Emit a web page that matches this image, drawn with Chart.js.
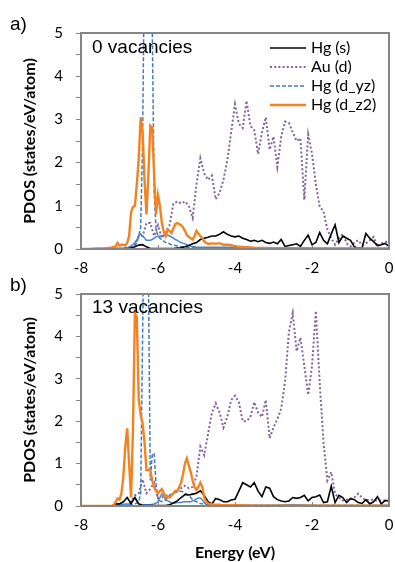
<!DOCTYPE html>
<html>
<head>
<meta charset="utf-8">
<script src="https://cdn.jsdelivr.net/npm/chart.js@4"></script>
<style>
  body { margin: 0; background: #fff; width: 395px; height: 562px; position: relative; overflow: hidden; }
  .panel { position: absolute; left: 0; width: 395px; }
  #wrapA { top: 0; height: 280px; }
  #wrapB { top: 272px; height: 290px; }
</style>
</head>
<body>
<div class="panel" id="wrapA"><canvas id="chartA"></canvas></div>
<div class="panel" id="wrapB"><canvas id="chartB"></canvas></div>
<script>
// energy grid (eV) for Hg(s) and Au(d)
var energy = [-8.0,-7.9,-7.8,-7.7,-7.6,-7.5,-7.4,-7.3,-7.2,-7.1,
  -7.0,-6.9,-6.8,-6.7,-6.6,-6.5,-6.4,-6.3,-6.2,-6.1,
  -6.0,-5.9,-5.8,-5.7,-5.6,-5.5,-5.4,-5.3,-5.2,-5.1,
  -5.0,-4.9,-4.8,-4.7,-4.6,-4.5,-4.4,-4.3,-4.2,-4.1,
  -4.0,-3.9,-3.8,-3.7,-3.6,-3.5,-3.4,-3.3,-3.2,-3.1,
  -3.0,-2.9,-2.8,-2.7,-2.6,-2.5,-2.4,-2.3,-2.2,-2.1,
  -2.0,-1.9,-1.8,-1.7,-1.6,-1.5,-1.4,-1.3,-1.2,-1.1,
  -1.0,-0.9,-0.8,-0.7,-0.6,-0.5,-0.4,-0.3,-0.2,-0.1,
  0.0];

// finer grid for the Hg d orbitals
var energyD = [-8.0,-7.8,-7.6,
  -7.4,-7.35,-7.3,-7.25,-7.2,-7.15,-7.1,-7.05,-7.0,-6.95,
  -6.9,-6.85,-6.8,-6.75,-6.7,-6.65,-6.6,-6.55,-6.5,-6.45,
  -6.4,-6.35,-6.3,-6.25,-6.2,-6.15,-6.1,-6.05,-6.0,-5.95,
  -5.9,-5.85,-5.8,-5.75,-5.7,-5.65,-5.6,-5.55,-5.5,-5.45,
  -5.4,-5.35,-5.3,-5.25,-5.2,-5.15,-5.1,-5.05,-5.0,-4.95,
  -4.9,-4.85,-4.8,-4.75,-4.7,-4.65,-4.6,-4.55,-4.5,-4.45,
  -4.4,-4.35,-4.3,-4.25,-4.2,-4.15,-4.1,-4.05,-4.0,
  -3.5,-3.0,-2.5,-2.0,-1.5,-1.0,-0.5,0.0];

var seriesNames = ['Hg (s)', 'Au (d)', 'Hg (d_yz)', 'Hg (d_z2)'];
var xTicks = [-8, -6, -4, -2, 0];
var panelTags = ['a)', 'b)'];
var panelNotes = ['0 vacancies', '13 vacancies'];

// ---- panel a: 0 vacancies ----
var hgS_a = [0,0,0,0,0,0,0,0,0,0,
  0,0,0,0.02,0.05,0.09,0.1,0.05,0.01,0.01,
  0.01,0.01,0.01,0.01,0.01,0.02,0.03,0.05,0.08,0.12,
  0.15,0.22,0.25,0.27,0.3,0.3,0.34,0.4,0.34,0.3,
  0.28,0.3,0.25,0.22,0.18,0.2,0.17,0.2,0.15,0.13,
  0.16,0.12,0.22,0.06,0.08,0.1,0.12,0.06,0.2,0.32,
  0.1,0.15,0.38,0.2,0.12,0.35,0.56,0.15,0.3,0.25,
  0.2,0.05,0.02,0.03,0.36,0.25,0.17,0.08,0.1,0.13,
  0.06];
var auD_a = [0,0,0,0,0,0,0,0,0,0,
  0,0,0,0.02,0.1,0.3,0.3,0.6,0.6,0.3,
  0.55,0.25,0.4,0.55,1.05,1.1,1.05,1.1,1.0,0.72,
  1.5,2.1,1.75,1.6,1.7,1.15,1.3,1.6,2.05,2.7,
  3.35,2.9,2.8,3.43,2.85,2.75,2.2,2.7,3.05,2.3,
  2.6,1.9,2.6,2.95,2.92,2.7,2.5,2.56,1.14,2.65,
  2.2,1.5,0.98,0.87,0.45,0.25,0.1,0.25,0.35,0.13,
  0.06,0.15,0.2,0.09,0.13,0.2,0.28,0.06,0.13,0.15,
  0.2];
var dyz_a = [0,0,0,
  0,0,0,0,0,0.01,0.01,0.01,0.01,0.02,
  0.02,0.02,0.03,0.03,0.04,0.05,0.08,0.15,0.3,0.5,
  2.5,7,9,9,9,5.2,1.3,0.45,0.3,0.25,
  0.2,0.18,0.15,0.14,0.12,0.1,0.09,0.08,0.07,0.06,
  0.05,0.05,0.04,0.04,0.03,0.03,0.03,0.03,0.02,0.02,
  0.02,0.02,0.02,0.02,0.02,0.02,0.02,0.02,0.02,0.02,
  0.02,0.02,0.02,0.02,0.01,0.01,0.01,0.01,0.01,
  0.01,0.01,0.01,0.01,0.01,0.01,0.01,0.01];
var dOther_a = [0,0,0,
  0.01,0.01,0.01,0.01,0.01,0.01,0.02,0.02,0.02,0.02,
  0.02,0.03,0.03,0.05,0.07,0.1,0.15,0.2,0.3,0.35,
  0.3,0.25,0.2,0.2,0.2,0.22,0.25,0.28,0.3,0.3,
  0.3,0.32,0.3,0.32,0.3,0.28,0.25,0.22,0.2,0.17,
  0.15,0.13,0.12,0.1,0.08,0.06,0.05,0.05,0.04,0.04,
  0.04,0.04,0.04,0.04,0.04,0.04,0.04,0.04,0.04,0.04,
  0.04,0.04,0.04,0.04,0.04,0.04,0.04,0.04,0.04,
  0.03,0.03,0.03,0.02,0.01,0.01,0.01,0.01];
var dz2_a = [0,0,0.01,
  0.01,0.02,0.02,0.03,0.03,0.05,0.06,0.14,0.08,0.1,
  0.1,0.08,0.14,0.3,0.85,0.97,1.0,1.5,2.1,3.05,
  2.7,1.6,0.8,1.7,2.85,2.8,1.7,0.8,1.25,1.0,
  0.6,0.4,0.3,0.45,0.42,0.37,0.48,0.58,0.6,0.58,
  0.55,0.5,0.42,0.32,0.28,0.25,0.22,0.3,0.42,0.35,
  0.3,0.25,0.18,0.14,0.12,0.12,0.13,0.13,0.12,0.13,
  0.13,0.12,0.1,0.1,0.1,0.1,0.09,0.08,0.06,
  0.03,0.02,0.02,0.01,0.01,0.01,0.01,0.01];

// ---- panel b: 13 vacancies ----
var hgS_b = [0,0,0,0,0,0,0,0,0,0.05,
  0.05,0.1,0.2,0.06,0.2,0.05,0.01,0.01,0.01,0.01,
  0.01,0.01,0.01,0.03,0.07,0.12,0.2,0.27,0.26,0.28,
  0.3,0.36,0.25,0.1,0.05,0.18,0.15,0.1,0.1,0.14,
  0.16,0.35,0.55,0.5,0.45,0.55,0.35,0.22,0.45,0.42,
  0.22,0.15,0.12,0.1,0.12,0.2,0.18,0.2,0.25,0.12,
  0.2,0.22,0.26,0.08,0.1,0.47,0.08,0.25,0.2,0.08,
  0.18,0.15,0.08,0.06,0.15,0.05,0.1,0.22,0.05,0.13,
  0.12];
var auD_b = [0,0,0,0,0,0,0,0,0,0,
  0,0,0,0.1,0.25,0.3,0.63,0.3,0.4,0.55,
  0.18,0.2,0.25,0.25,0.3,0.36,0.42,0.48,0.42,0.45,
  0.7,1.4,1.2,1.7,2.2,2.42,2.2,1.85,2.1,2.5,
  2.6,2.45,2.0,2.0,2.1,2.45,2.2,2.1,2.5,1.6,
  1.85,2.05,2.3,2.93,4.1,4.55,3.65,3.97,3.3,2.62,
  3.3,4.6,2.9,1.5,0.6,0.8,0.28,0.2,0.13,0.15,
  0.16,0.2,0.29,0.2,0.13,0.15,0.15,0.12,0.13,0.13,
  0.13];
var dyz_b = [0,0,0,
  0,0,0,0,0,0,0.01,0.01,0.01,0.01,
  0.01,0.02,0.02,0.03,0.03,0.04,0.05,0.07,0.1,0.3,
  4,8,8,5.5,0.6,1.2,1.25,0.5,0.15,0.12,
  0.1,0.12,0.15,0.2,0.25,0.28,0.3,0.32,0.33,0.35,
  0.35,0.33,0.3,0.28,0.25,0.2,0.15,0.12,0.1,0.08,
  0.06,0.05,0.04,0.03,0.03,0.02,0.02,0.02,0.02,0.02,
  0.02,0.02,0.02,0.02,0.02,0.02,0.02,0.02,0.02,
  0.01,0.01,0.01,0.01,0.01,0.01,0.01,0.01];
var dOther_b = [0,0,0,
  0,0,0,0,0,0.01,0.03,0.05,0.05,0.04,
  0.04,0.05,0.05,0.05,0.08,0.15,0.2,0.12,0.05,0.04,
  0.03,0.03,0.03,0.03,0.03,0.04,0.05,0.07,0.1,0.2,
  0.28,0.25,0.15,0.12,0.1,0.08,0.07,0.07,0.08,0.08,
  0.08,0.1,0.1,0.1,0.1,0.1,0.12,0.14,0.17,0.19,
  0.19,0.15,0.08,0.04,0.03,0.03,0.02,0.02,0.02,0.02,
  0.02,0.02,0.02,0.02,0.02,0.02,0.02,0.02,0.02,
  0.02,0.02,0.03,0.02,0.01,0.01,0.01,0.01];
var dz2_b = [0,0,0,
  0,0,0,0,0,0.02,0.1,0.18,0.15,0.3,
  0.7,1.4,1.83,1.0,0.2,1.8,4.55,4.45,2.5,2.15,
  1.95,1.5,0.85,0.85,0.85,0.6,0.45,0.35,0.3,0.35,
  0.4,0.3,0.2,0.22,0.2,0.25,0.3,0.36,0.35,0.45,
  0.55,0.75,1.0,1.12,0.95,0.8,0.6,0.45,0.38,0.45,
  0.55,0.45,0.2,0.1,0.06,0.05,0.04,0.03,0.03,0.03,
  0.03,0.02,0.02,0.02,0.02,0.02,0.02,0.02,0.02,
  0.01,0.01,0.01,0.01,0.01,0.01,0.01,0.01];

Chart.defaults.font.family = 'Lato';
Chart.defaults.color = '#000';

function pts(xs, ys) {
  return xs.map(function(x, i) { return {x: x, y: ys[i]}; });
}

function makeDatasets(s, au, dyz, dOther, dz2) {
  return [
    {label: seriesNames[0], data: pts(energy, s), borderColor: '#000', borderWidth: 1.6, order: 1, legend: true},
    {label: seriesNames[1], data: pts(energy, au), borderColor: '#8064A2', borderWidth: 2, borderDash: [2, 2.2], order: 4, legend: true},
    {label: seriesNames[2], data: pts(energyD, dyz), borderColor: '#3F7CC8', borderWidth: 1.5, borderDash: [4, 2], order: 2, legend: true},
    {label: 'Hg (d other)', data: pts(energyD, dOther), borderColor: '#4A86CF', borderWidth: 1.5, order: 3, legend: false},
    {label: seriesNames[3], data: pts(energyD, dz2), borderColor: '#F5821F', borderWidth: 2.4, order: 0, legend: true}
  ];
}

// frame, inward x ticks, panel tag, note and legend
var panelPlugin = {
  id: 'panelDeco',
  afterDatasetsDraw: function(chart, args, opts) {
    var ctx = chart.ctx, a = chart.chartArea, x = chart.scales.x;
    ctx.save();
    ctx.strokeStyle = '#858585';
    ctx.lineWidth = 2;
    ctx.strokeRect(a.left, a.top, a.right - a.left, a.bottom - a.top);
    ctx.lineWidth = 1;
    xTicks.forEach(function(v) {
      var px = Math.round(x.getPixelForValue(v)) + 0.5;
      ctx.beginPath(); ctx.moveTo(px, a.bottom); ctx.lineTo(px, a.bottom - 4); ctx.stroke();
    });
    ctx.fillStyle = '#000';
    ctx.textBaseline = 'alphabetic';
    ctx.font = '19px "Liberation Sans"';
    ctx.fillText(opts.tag, 10, opts.tagY);
    ctx.fillText(opts.note, 92, opts.noteY);
    if (opts.legend) {
      ctx.font = '16px Lato';
      ctx.textBaseline = 'middle';
      var items = chart.data.datasets.filter(function(d) { return d.legend; });
      items.forEach(function(d, i) {
        var y = 48 + i * 19;
        ctx.strokeStyle = d.borderColor;
        ctx.lineWidth = d.borderWidth;
        ctx.setLineDash(d.borderDash || []);
        ctx.beginPath(); ctx.moveTo(270, y); ctx.lineTo(306, y); ctx.stroke();
        ctx.setLineDash([]);
        ctx.fillText(d.label, 311, y);
      });
    }
    ctx.restore();
  }
};

function makeChart(id, datasets, deco, padTop, xHeight, showTitle) {
  return new Chart(document.getElementById(id), {
    type: 'line',
    data: {datasets: datasets},
    plugins: [panelPlugin],
    options: {
      responsive: true,
      maintainAspectRatio: false,
      animation: false,
      layout: {padding: {top: padTop, right: 6, left: 0, bottom: 0}},
      elements: {point: {radius: 0}, line: {tension: 0, fill: false}},
      plugins: {legend: {display: false}, tooltip: {enabled: false}, panelDeco: deco},
      scales: {
        x: {
          type: 'linear', min: -8, max: 0,
          grid: {display: false, drawTicks: false},
          border: {display: false},
          ticks: {stepSize: 2, padding: 10, font: {size: 15}, color: '#000'},
          title: {display: showTitle, text: 'Energy (eV)', font: {size: 16, weight: 'bold'}, padding: {top: 0, bottom: 0}},
          afterFit: function(s) { s.height = xHeight; s.paddingLeft = 0; s.paddingRight = 0; }
        },
        y: {
          min: 0, max: 5,
          grid: {drawOnChartArea: false, drawTicks: true, tickLength: 5, color: '#858585'},
          border: {display: false},
          ticks: {stepSize: 0.5, autoSkip: false, padding: 13, font: {size: 15}, color: '#000',
            callback: function(v) { return Number.isInteger(v) ? v : ''; }},
          title: {display: true, text: 'PDOS (states/eV/atom)', font: {size: 16, weight: 'bold'}, padding: {top: 20, bottom: 0}},
          afterFit: function(s) { s.width = 81; }
        }
      }
    }
  });
}

makeChart('chartA', makeDatasets(hgS_a, auD_a, dyz_a, dOther_a, dz2_a),
  {tag: panelTags[0], tagY: 30, note: panelNotes[0], noteY: 53, legend: true}, 33, 31, false);
makeChart('chartB', makeDatasets(hgS_b, auD_b, dyz_b, dOther_b, dz2_b),
  {tag: panelTags[1], tagY: 19, note: panelNotes[1], noteY: 41, legend: false}, 17, 56, true);
</script>
</body>
</html>
